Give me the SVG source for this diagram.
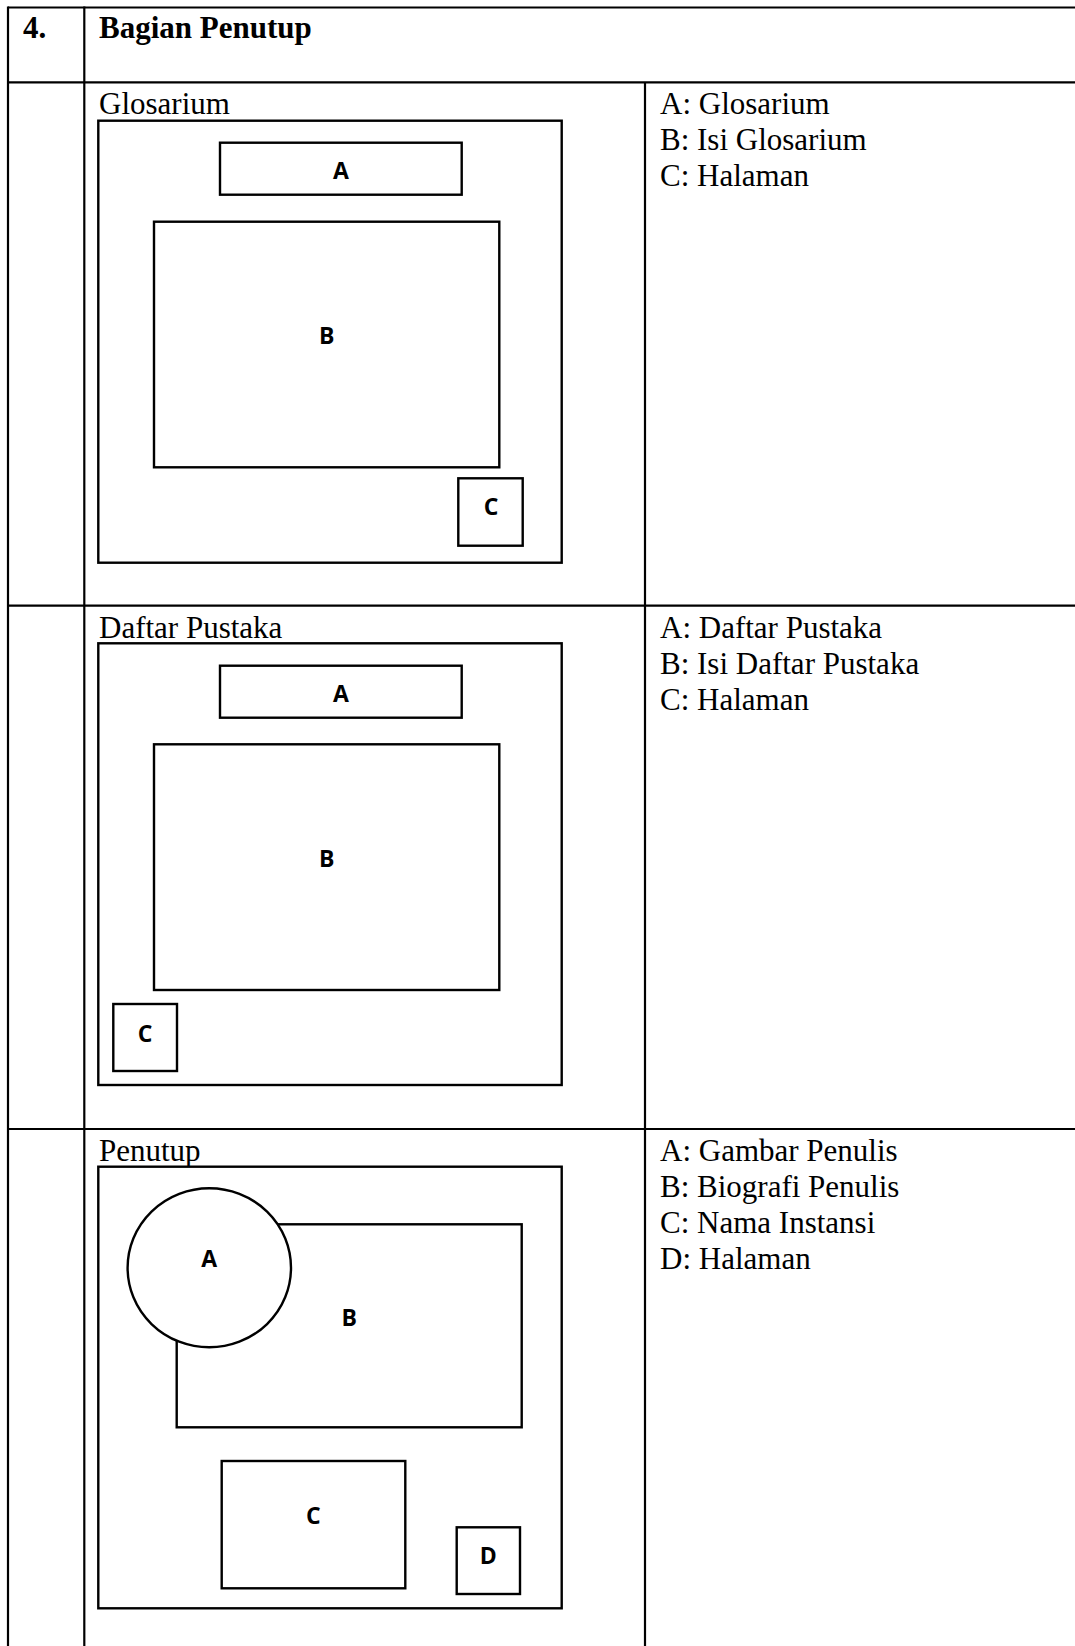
<svg xmlns="http://www.w3.org/2000/svg" width="1075" height="1646" viewBox="0 0 1075 1646">
<style>
.grid{stroke:#000;stroke-width:2.2;fill:none}
.box{stroke:#000;stroke-width:2.4;fill:#fff}
.t{font-family:"Liberation Serif","Times New Roman",serif;font-size:31px;fill:#000}
.h{font-family:"Liberation Serif","Times New Roman",serif;font-size:31px;font-weight:bold;fill:#000}
.l{font-family:"Open Sans","Liberation Sans",sans-serif;font-size:23px;font-weight:bold;fill:#000;text-anchor:middle}
</style>
<rect width="1075" height="1646" fill="#fff"/>
<g id="table">
<line class="grid" x1="8" y1="7.5" x2="1075" y2="7.5"/>
<line class="grid" x1="8" y1="82.3" x2="1075" y2="82.3"/>
<line class="grid" x1="8" y1="605.7" x2="1075" y2="605.7"/>
<line class="grid" x1="8" y1="1129" x2="1075" y2="1129"/>
<line class="grid" x1="8" y1="6.4" x2="8" y2="1646"/>
<line class="grid" x1="84.3" y1="6.4" x2="84.3" y2="1646"/>
<line class="grid" x1="645" y1="82.3" x2="645" y2="1646"/>
<text class="h" x="23" y="37.5">4.</text>
<text class="h" x="99" y="37.5">Bagian Penutup</text>
</g>
<g id="glosarium">
<text class="t" x="99" y="113.5">Glosarium</text>
<rect class="box" x="98.3" y="120.7" width="463.4" height="442"/>
<g id="glos-a"><rect class="box" x="220" y="142.7" width="241.7" height="52"/><text class="l" x="341" y="179">A</text></g>
<g id="glos-b"><rect class="box" x="154" y="221.7" width="345.3" height="245.6"/><text class="l" x="326.7" y="344">B</text></g>
<g id="glos-c"><rect class="box" x="458.3" y="478.3" width="64.4" height="67.4"/><text class="l" x="491" y="515">C</text></g>
<text class="t" x="660" y="113.5">A: Glosarium</text>
<text class="t" x="660" y="149.5">B: Isi Glosarium</text>
<text class="t" x="660" y="185.5">C: Halaman</text>
</g>
<g id="daftar-pustaka">
<text class="t" x="99" y="637.5">Daftar Pustaka</text>
<rect class="box" x="98.3" y="643.3" width="463.4" height="441.7"/>
<g id="dp-a"><rect class="box" x="220" y="665.7" width="241.7" height="52"/><text class="l" x="341" y="702">A</text></g>
<g id="dp-b"><rect class="box" x="154" y="744.3" width="345.3" height="245.7"/><text class="l" x="326.7" y="867">B</text></g>
<g id="dp-c"><rect class="box" x="113.3" y="1004" width="63.7" height="67"/><text class="l" x="145" y="1041.5">C</text></g>
<text class="t" x="660" y="637.5">A: Daftar Pustaka</text>
<text class="t" x="660" y="673.5">B: Isi Daftar Pustaka</text>
<text class="t" x="660" y="709.5">C: Halaman</text>
</g>
<g id="penutup">
<text class="t" x="99" y="1160.5">Penutup</text>
<rect class="box" x="98.3" y="1166.7" width="463.4" height="441.6"/>
<g id="pen-b"><rect class="box" x="176.7" y="1224.3" width="345" height="203"/><text class="l" x="349.3" y="1326">B</text></g>
<g id="pen-a"><ellipse class="box" cx="209.3" cy="1267.8" rx="81.7" ry="79.5"/><text class="l" x="209.3" y="1267">A</text></g>
<g id="pen-c"><rect class="box" x="221.7" y="1461" width="183.6" height="127.3"/><text class="l" x="313.3" y="1524">C</text></g>
<g id="pen-d"><rect class="box" x="456.7" y="1527.3" width="63.3" height="66.7"/><text class="l" x="488.3" y="1564">D</text></g>
<text class="t" x="660" y="1160.5">A: Gambar Penulis</text>
<text class="t" x="660" y="1196.5">B: Biografi Penulis</text>
<text class="t" x="660" y="1232.5">C: Nama Instansi</text>
<text class="t" x="660" y="1268.5">D: Halaman</text>
</g>
<g id="connectors"/>
</svg>
